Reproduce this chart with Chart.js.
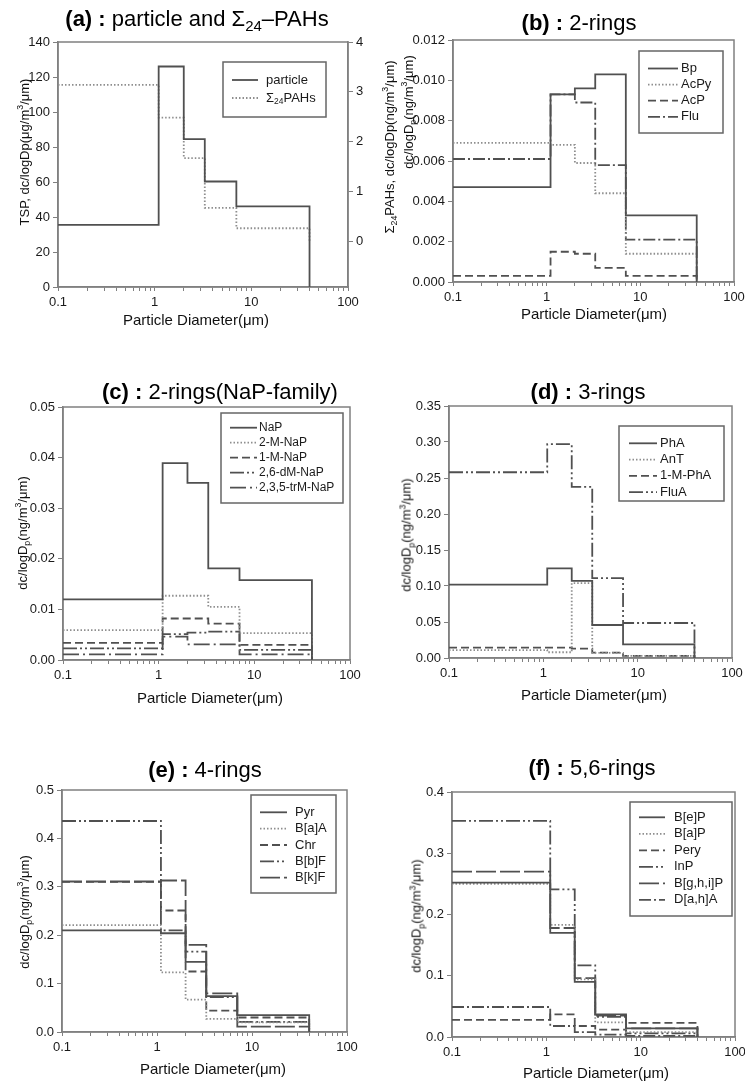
<!DOCTYPE html>
<html>
<head>
<meta charset="utf-8">
<script src="https://cdn.jsdelivr.net/npm/chart.js@4.4.1/dist/chart.umd.min.js"></script>
<style>
body { margin: 0; background: #fff; }
#page { position: relative; width: 745px; height: 1082px; overflow: hidden; font-family: "Liberation Sans", Arial, sans-serif; color: #111; }
canvas { position: absolute; }
.t { position: absolute; white-space: nowrap; transform: translate(-50%, -50%); z-index: 2; }
.title { font-size: 22px; color: #000; }
.xt { font-size: 15px; }
.yt { font-size: 13px; transform: translate(-50%, -50%) rotate(-90deg); }
sub, sup { font-size: 68%; line-height: 0; }
</style>
</head>
<body>
<div id="page"></div>
<script>
// bin edges of the impactor stages (um)
const edges = [0.1, 1.1, 2.0, 3.3, 7.0, 40];
const xMajor = [0.1, 1, 10, 100];

// (a) particle and sum of 24 PAHs
const particle = [35.5, 126, 84.5, 60.3, 46.1];
const sumPAHs = [3.14, 2.48, 1.67, 0.67, 0.26];
const aTicks = [0, 20, 40, 60, 80, 100, 120, 140];
const aTicksRight = [0, 1, 2, 3, 4];

// (b) 2-rings
const Bp = [0.0047, 0.0093, 0.0096, 0.0103, 0.0033];
const AcPy = [0.0069, 0.0068, 0.0059, 0.0044, 0.0014];
const AcP = [0.0003, 0.0015, 0.0014, 0.0007, 0.0003];
const Flu = [0.0061, 0.0093, 0.0089, 0.0058, 0.0021];
const bTicks = [0, 0.002, 0.004, 0.006, 0.008, 0.010, 0.012];

// (c) NaP family
const NaP = [0.0120, 0.0389, 0.0350, 0.0181, 0.0158];
const M2NaP = [0.0059, 0.0127, 0.0127, 0.0105, 0.0053];
const M1NaP = [0.0034, 0.0082, 0.0082, 0.0072, 0.0030];
const dM26NaP = [0.0023, 0.0051, 0.0054, 0.0056, 0.0020];
const trM235NaP = [0.0011, 0.0046, 0.0031, 0.0031, 0.0011];
const cTicks = [0, 0.01, 0.02, 0.03, 0.04, 0.05];

// (d) 3-rings
const PhA = [0.102, 0.1245, 0.107, 0.0458, 0.019];
const AnT = [0.011, 0.008, 0.104, 0.007, 0.003];
const M1PhA = [0.0144, 0.0144, 0.013, 0.0074, 0.003];
const FluA = [0.258, 0.297, 0.2376, 0.111, 0.0486];
const dTicks = [0, 0.05, 0.10, 0.15, 0.20, 0.25, 0.30, 0.35];

// (e) 4-rings
const Pyr = [0.210, 0.204, 0.145, 0.074, 0.035];
const BaA = [0.221, 0.123, 0.067, 0.027, 0.020];
const Chr = [0.310, 0.251, 0.125, 0.044, 0.030];
const BbF = [0.436, 0.210, 0.166, 0.072, 0.021];
const BkF = [0.311, 0.313, 0.180, 0.080, 0.011];
const eTicks = [0, 0.1, 0.2, 0.3, 0.4, 0.5];

// (f) 5,6-rings
const BeP = [0.252, 0.170, 0.090, 0.037, 0.014];
const BaP = [0.250, 0.183, 0.094, 0.024, 0.008];
const Pery = [0.028, 0.037, 0.018, 0.012, 0.023];
const InP = [0.353, 0.241, 0.117, 0.033, 0.006];
const BghiP = [0.270, 0.178, 0.096, 0.035, 0.014];
const DahA = [0.049, 0.018, 0.008, 0.004, 0.002];
const fTicks = [0, 0.1, 0.2, 0.3, 0.4];

const FONT = '"Liberation Sans", Arial, sans-serif';
const AXIS = '#808080';
const LINE = '#505050';
const DOTC = '#8e8e8e';
const TXT = '#1a1a1a';
const DASH = {
  solid: [], dot: [1.5, 2], dash: [8, 4], dashDot: [12, 3, 2, 3],
  dashDotDot: [14, 3, 2, 3, 2, 3], longDash: [20, 4], longDashDot: [16, 4, 2, 4]
};

const page = document.getElementById('page');

function steps(vals) {
  const pts = vals.map((v, i) => ({x: edges[i], y: v}));
  pts.push({x: edges[edges.length - 1], y: 0});
  return pts;
}

function series(label, vals, style, axis) {
  return {
    label: label, data: steps(vals), stepped: true,
    borderColor: style === 'dot' ? DOTC : LINE,
    borderWidth: 1.8, borderDash: DASH[style],
    pointRadius: 0, fill: false, yAxisID: axis || 'y'
  };
}

// small rich text: "_{..}" is drawn as subscript
function drawRich(ctx, text, x, y, size) {
  text.split(/(_\{[^}]*\})/).forEach(p => {
    if (!p) return;
    let s = size, dy = 0, t = p;
    if (p.startsWith('_{')) { t = p.slice(2, -1); s = size * 0.65; dy = size * 0.3; }
    ctx.font = s + 'px ' + FONT;
    ctx.fillText(t, x, y + dy);
    x += ctx.measureText(t).width;
  });
}

const framePlugin = {
  id: 'frame',
  beforeDatasetsDraw(chart) {
    const {ctx, chartArea: a} = chart;
    ctx.save();
    ctx.strokeStyle = AXIS;
    ctx.lineWidth = 1.5;
    ctx.strokeRect(a.left, a.top, a.right - a.left, a.bottom - a.top);
    ctx.restore();
  }
};

const boxLegend = {
  id: 'boxLegend',
  afterDatasetsDraw(chart, args, o) {
    const ctx = chart.ctx;
    const x = o.box[0] - o.ox, y = o.box[1] - o.oy;
    ctx.save();
    ctx.fillStyle = '#fff';
    ctx.fillRect(x, y, o.box[2], o.box[3]);
    ctx.strokeStyle = '#666';
    ctx.lineWidth = 1.5;
    ctx.strokeRect(x, y, o.box[2], o.box[3]);
    chart.data.datasets.forEach((ds, i) => {
      const ry = o.first - o.oy + i * o.row;
      ctx.strokeStyle = ds.borderColor;
      ctx.lineWidth = ds.borderWidth;
      ctx.setLineDash(ds.borderDash);
      ctx.beginPath();
      ctx.moveTo(o.line[0] - o.ox, ry);
      ctx.lineTo(o.line[1] - o.ox, ry);
      ctx.stroke();
      ctx.setLineDash([]);
      ctx.fillStyle = TXT;
      ctx.textBaseline = 'middle';
      drawRich(ctx, ds.label, o.text - o.ox, ry, o.size);
    });
    ctx.restore();
  }
};

function xScale(h) {
  return {
    type: 'logarithmic', min: 0.1, max: 100,
    border: {color: AXIS, width: 1.5},
    grid: {drawOnChartArea: false, color: AXIS, tickLength: 4},
    ticks: {
      autoSkip: false, maxRotation: 0, padding: 4, color: TXT,
      font: {size: 13, family: FONT},
      callback: v => xMajor.some(m => Math.abs(m - v) < 1e-9) ? String(v) : ''
    },
    afterBuildTicks: s => {
      const list = [];
      for (let e = -1; e < 2; e++) for (let k = 1; k < 10; k++) list.push(+(k * Math.pow(10, e)).toPrecision(3));
      list.push(100);
      s.ticks = list.map(v => ({value: v}));
    },
    afterFit: s => { s.height = h; }
  };
}

function yScale(c, w, pos) {
  return {
    type: 'linear', position: pos, min: c.min, max: c.max,
    border: {color: AXIS, width: 1.5},
    grid: {drawOnChartArea: false, color: AXIS, tickLength: 5},
    ticks: {padding: 3, color: TXT, font: {size: 13, family: FONT}, callback: v => v.toFixed(c.dec)},
    afterBuildTicks: s => { s.ticks = c.ticks.map(v => ({value: v})); },
    afterFit: s => { s.width = w; }
  };
}

function panel(p) {
  const [cx, cy, cw, ch] = p.canvas;
  const [L, T, R, B] = p.plot;
  const cv = document.createElement('canvas');
  cv.width = cw; cv.height = ch;
  cv.style.left = cx + 'px'; cv.style.top = cy + 'px';
  cv.style.width = cw + 'px'; cv.style.height = ch + 'px';
  page.appendChild(cv);
  const scales = {x: xScale(cy + ch - B), y: yScale(p.y, L - cx, 'left')};
  if (p.y2) scales.y2 = yScale(p.y2, cx + cw - R, 'right');
  new Chart(cv, {
    type: 'line',
    data: {datasets: p.datasets},
    options: {
      responsive: false, animation: false,
      layout: {padding: {top: T - cy, right: p.y2 ? 0 : cx + cw - R, left: 0, bottom: 0}},
      scales: scales,
      plugins: {
        legend: {display: false},
        tooltip: {enabled: false},
        boxLegend: Object.assign({ox: cx, oy: cy}, p.legend)
      }
    },
    plugins: [framePlugin, boxLegend]
  });
}

function txt(html, x, y, cls) {
  const d = document.createElement('div');
  d.className = 't ' + cls;
  d.style.left = x + 'px';
  d.style.top = y + 'px';
  d.innerHTML = html;
  page.appendChild(d);
}

panel({
  canvas: [0, 0, 372, 330], plot: [58, 42, 348, 287],
  y: {min: 0, max: 140, ticks: aTicks, dec: 0},
  y2: {min: -0.92, max: 4, ticks: aTicksRight, dec: 0},
  datasets: [series('particle', particle, 'solid'), series('\u03A3_{24}PAHs', sumPAHs, 'dot', 'y2')],
  legend: {box: [223, 62, 103, 55], first: 80, row: 18, line: [232, 258], text: 266, size: 13}
});
panel({
  canvas: [372, 0, 400, 330], plot: [453, 40, 734, 282],
  y: {min: 0, max: 0.012, ticks: bTicks, dec: 3},
  datasets: [series('Bp', Bp, 'solid'), series('AcPy', AcPy, 'dot'), series('AcP', AcP, 'dash'), series('Flu', Flu, 'dashDot')],
  legend: {box: [639, 51, 84, 82], first: 68.5, row: 16.1, line: [648, 678], text: 681, size: 13}
});
panel({
  canvas: [0, 330, 372, 375], plot: [63, 407, 350, 660],
  y: {min: 0, max: 0.05, ticks: cTicks, dec: 2},
  datasets: [series('NaP', NaP, 'solid'), series('2-M-NaP', M2NaP, 'dot'), series('1-M-NaP', M1NaP, 'dash'),
             series('2,6-dM-NaP', dM26NaP, 'dashDotDot'), series('2,3,5-trM-NaP', trM235NaP, 'longDashDot')],
  legend: {box: [221, 413, 122, 90], first: 427.7, row: 15, line: [230, 257], text: 259, size: 12}
});
panel({
  canvas: [372, 330, 400, 375], plot: [449, 406, 732, 658],
  y: {min: 0, max: 0.35, ticks: dTicks, dec: 2},
  datasets: [series('PhA', PhA, 'solid'), series('AnT', AnT, 'dot'), series('1-M-PhA', M1PhA, 'dash'), series('FluA', FluA, 'dashDotDot')],
  legend: {box: [619, 426, 105, 75], first: 443.3, row: 16.3, line: [629, 657], text: 660, size: 13}
});
panel({
  canvas: [0, 705, 372, 377], plot: [62, 790, 347, 1032],
  y: {min: 0, max: 0.5, ticks: eTicks, dec: 1},
  datasets: [series('Pyr', Pyr, 'solid'), series('B[a]A', BaA, 'dot'), series('Chr', Chr, 'dash'),
             series('B[b]F', BbF, 'dashDotDot'), series('B[k]F', BkF, 'longDash')],
  legend: {box: [251, 795, 85, 98], first: 812.3, row: 16.35, line: [260, 287], text: 295, size: 13}
});
panel({
  canvas: [372, 705, 400, 377], plot: [452, 792, 735, 1037],
  y: {min: 0, max: 0.4, ticks: fTicks, dec: 1},
  datasets: [series('B[e]P', BeP, 'solid'), series('B[a]P', BaP, 'dot'), series('Pery', Pery, 'dash'),
             series('InP', InP, 'dashDotDot'), series('B[g,h,i]P', BghiP, 'longDash'), series('D[a,h]A', DahA, 'dashDot')],
  legend: {box: [630, 802, 102, 114], first: 817.3, row: 16.5, line: [639, 665], text: 674, size: 13}
});

// titles
txt('<b>(a) :</b> particle and \u03A3<sub>24</sub>\u2013PAHs', 197, 19, 'title');
txt('<b>(b) :</b> 2-rings', 579, 23, 'title');
txt('<b>(c) :</b> 2-rings(NaP-family)', 220, 392, 'title');
txt('<b>(d) :</b> 3-rings', 588, 392, 'title');
txt('<b>(e) :</b> 4-rings', 205, 770, 'title');
txt('<b>(f) :</b> 5,6-rings', 592, 768, 'title');

// x axis titles
const xTitle = 'Particle Diameter(\u03BCm)';
txt(xTitle, 196, 319, 'xt');
txt(xTitle, 594, 313, 'xt');
txt(xTitle, 210, 697, 'xt');
txt(xTitle, 594, 694, 'xt');
txt(xTitle, 213, 1068, 'xt');
txt(xTitle, 596, 1072, 'xt');

// y axis titles
const yTitle = 'dc/logD<sub>p</sub>(ng/m<sup>3</sup>/\u03BCm)';
txt('TSP, dc/logDp(\u03BCg/m<sup>3</sup>/\u03BCm)', 24, 152, 'yt');
txt('\u03A3<sub>24</sub>PAHs, dc/logDp(ng/m<sup>3</sup>/\u03BCm)', 389, 147, 'yt');
txt(yTitle, 408, 112, 'yt');
txt(yTitle, 22, 533, 'yt');
txt(yTitle, 406, 535, 'yt');
txt(yTitle, 24, 912, 'yt');
txt(yTitle, 416, 916, 'yt');
</script>
</body>
</html>
